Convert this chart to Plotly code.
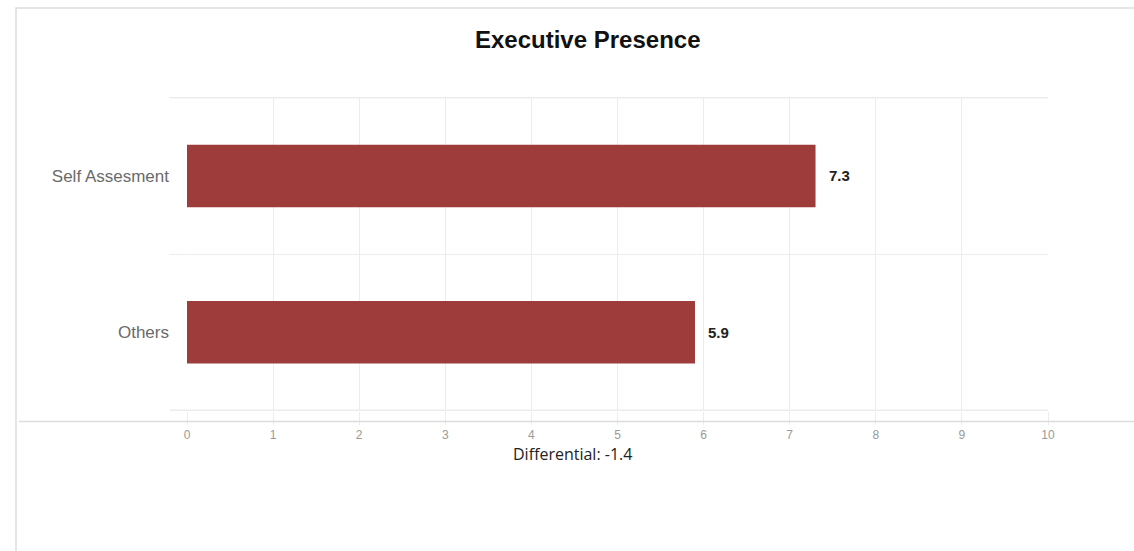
import plotly.graph_objects as go

categories = ["Self Assesment", "Others"]
scores = [7.3, 5.9]
x_ticks = [0, 1, 2, 3, 4, 5, 6, 7, 8, 9, 10]
title_text = "Executive Presence"

W, H = 1134, 551
L, R, T, B = 187, 1048, 97, 411


def px(x):
    return (x - L) / (R - L)


def py(y):
    return (B - y) / (B - T)


differential = round(scores[1] - scores[0], 1)
GRID = "#ececec"

fig = go.Figure()
fig.add_trace(go.Bar(
    y=categories, x=scores, orientation="h",
    marker=dict(color="#9e3c3c", line=dict(width=0)),
    hoverinfo="skip",
))

annotations = []
for c, v in zip(categories, scores):
    annotations.append(dict(
        x=v, y=c, xref="x", yref="y", text=f"<b>{v}</b>", showarrow=False,
        xanchor="left", xshift=11, yanchor="middle",
        font=dict(family="Liberation Sans, Arial", size=15, color="#222222"),
    ))
annotations.append(dict(
    x=px(587), y=py(40), xref="paper", yref="paper", text=f"<b>{title_text}</b>",
    showarrow=False, xanchor="center", yanchor="middle",
    font=dict(family="Liberation Sans, Arial", size=24, color="#111111"),
))
annotations.append(dict(
    x=px(511), y=py(454), xref="paper", yref="paper", text=f"Differential: {differential}",
    showarrow=False, xanchor="left", yanchor="middle",
    font=dict(family="Open Sans", size=16, color="#222222"),
))

shapes = [
    # card border
    dict(type="rect", xref="paper", yref="paper",
         x0=px(16), x1=px(1145), y0=py(8), y1=py(570),
         line=dict(color="#dddddd", width=1.5), layer="below"),
    # separator line
    dict(type="line", xref="paper", yref="paper",
         x0=px(19), x1=px(1134), y0=py(421.5), y1=py(421.5),
         line=dict(color="#dcdcdc", width=1.5)),
]
# outer category boundaries (top and bottom grid lines)
for b in (-0.5, len(categories) - 0.5):
    shapes.append(dict(type="line", xref="paper", yref="y",
                       x0=px(170), x1=1, y0=b, y1=b,
                       line=dict(color=GRID, width=1.5), layer="below"))

fig.update_layout(
    width=W, height=H,
    margin=dict(l=L, r=W - R, t=T, b=H - B, pad=0),
    paper_bgcolor="white", plot_bgcolor="white",
    showlegend=False, bargap=0.6,
    annotations=annotations, shapes=shapes,
    xaxis=dict(
        range=[0, 10], tickvals=x_ticks, showgrid=True, gridcolor=GRID, gridwidth=1,
        zeroline=False, showline=False, ticks="outside", ticklen=13, tickcolor=GRID,
        tickfont=dict(family="Liberation Sans, Arial", size=12, color="#9a9a9a"),
        fixedrange=True,
    ),
    yaxis=dict(
        type="category", categoryorder="array", categoryarray=categories,
        autorange="reversed", tickson="boundaries", showgrid=True,
        gridcolor=GRID, gridwidth=1, ticks="outside", ticklen=17,
        tickcolor=GRID, showline=False, zeroline=False, ticklabelstandoff=17,
        tickfont=dict(family="Liberation Sans, Arial", size=17, color="#6a6a6a"),
        fixedrange=True,
    ),
)

fig.write_html("out.html", config={"displayModeBar": False})
